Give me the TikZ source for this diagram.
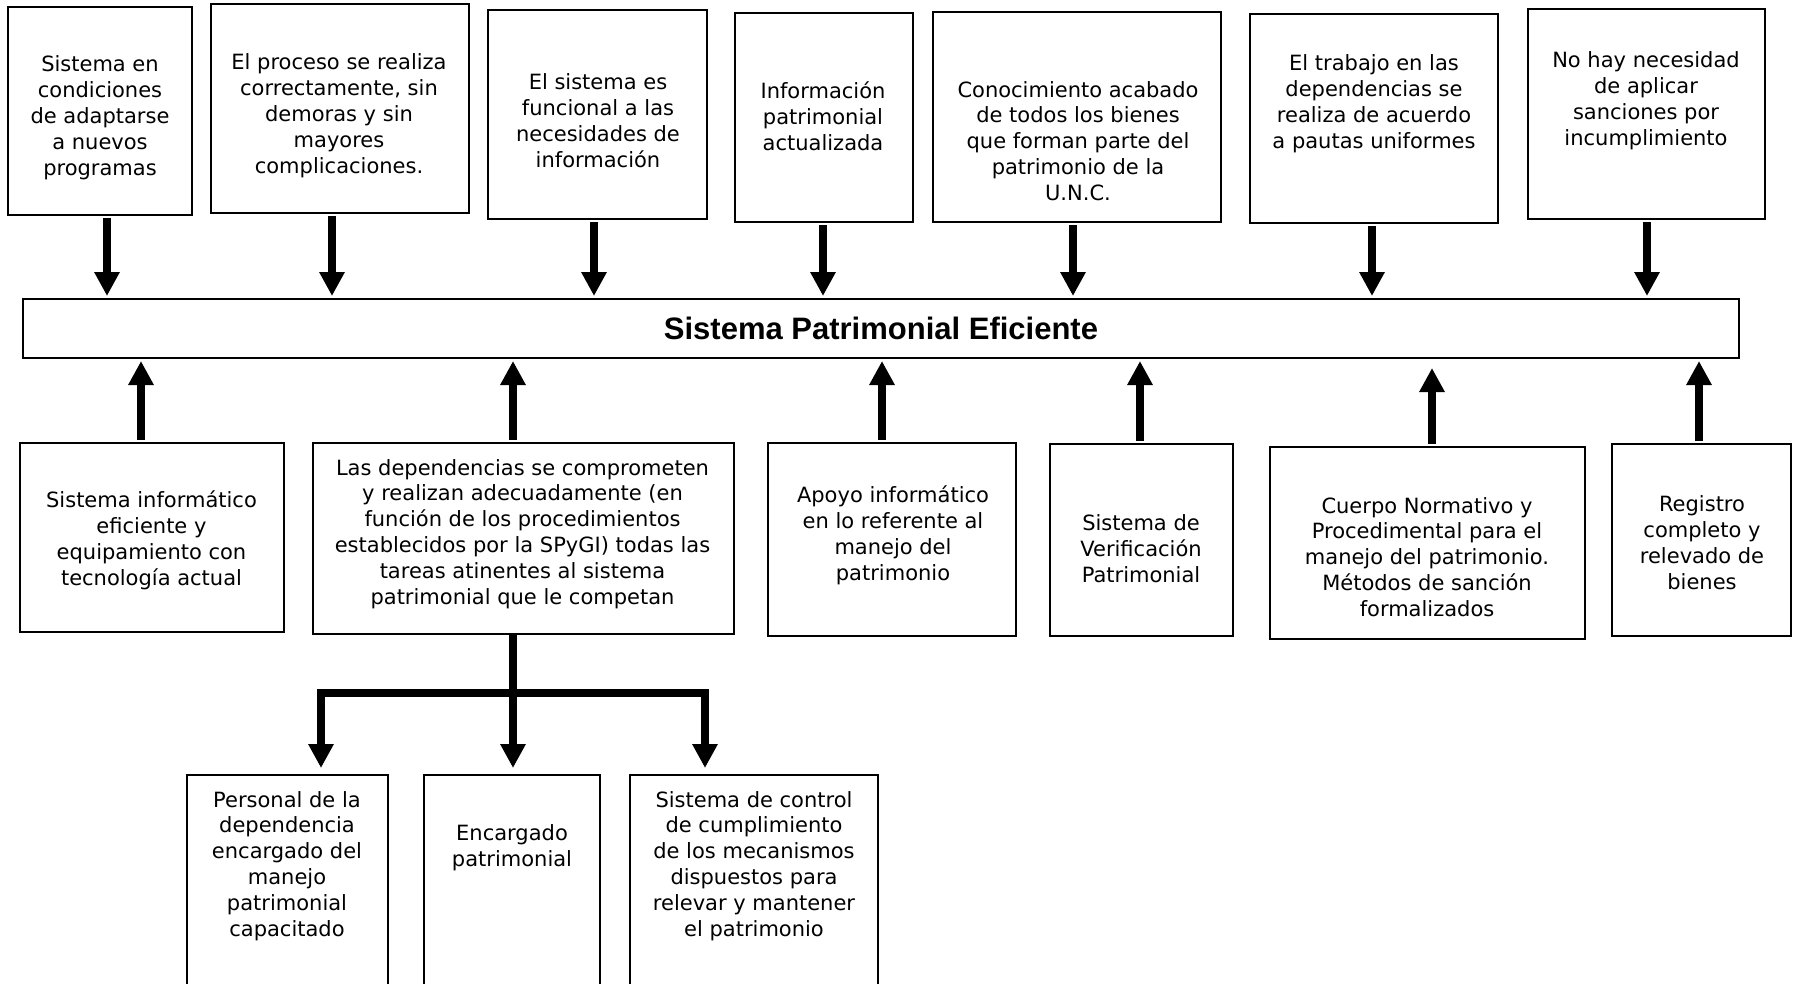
\documentclass[tikz,border=0pt]{standalone}
\usepackage{fontspec}
\setmainfont{DejaVu Sans}
\newfontfamily\titlefont{Liberation Sans}
\usetikzlibrary{arrows.meta, positioning}

\tikzset{
  box/.style={draw, line width=2pt, inner sep=0pt},
  txt/.style={align=center, inner sep=0pt, font=\fontsize{21}{25.9}\selectfont},
  conn/.style={line width=8pt, -{Triangle[width=24pt,length=24pt]}, shorten <=2pt, shorten >=2pt},
  stem/.style={line width=8pt}
}

\begin{document}
\begin{tikzpicture}[x=1pt, y=-1pt]
\useasboundingbox (0,0) rectangle (1797,983);
\clip (0,0) rectangle (1797,983);

% Top row
\node[box, minimum width=184pt, minimum height=208pt] (t1) at (100,111) {};
\node[txt] (t1l) at (100,117.5) {Sistema en\\condiciones\\de adaptarse\\a nuevos\\programas};
\node[box, minimum width=258pt, minimum height=209pt] (t2) at (340,108.5) {};
\node[txt] (t2l) at (339,116) {El proceso se realiza\\correctamente, sin\\demoras y sin\\mayores\\complicaciones.};
\node[box, minimum width=219pt, minimum height=209pt] (t3) at (597.5,114.5) {};
\node[txt] (t3l) at (598,121) {El sistema es\\funcional a las\\necesidades de\\información};
\node[box, minimum width=178pt, minimum height=209pt] (t4) at (824,117.5) {};
\node[txt] (t4l) at (823,116) {Información\\patrimonial\\actualizada};
\node[box, minimum width=288pt, minimum height=210pt] (t5) at (1077,117) {};
\node[txt] (t5l) at (1078,141) {Conocimiento acabado\\de todos los bienes\\que forman parte del\\patrimonio de la\\U.N.C.};
\node[box, minimum width=248pt, minimum height=209pt] (t6) at (1374,118.5) {};
\node[txt] (t6l) at (1374,104) {El trabajo en las\\dependencias se\\realiza de acuerdo\\a pautas uniformes};
\node[box, minimum width=237pt, minimum height=210pt] (t7) at (1646.5,114) {};
\node[txt] (t7l) at (1646,101) {No hay necesidad\\de aplicar\\sanciones por\\incumplimiento};

% Central box
\node[box, minimum width=1716pt, minimum height=59pt,
  font=\titlefont\bfseries\fontsize{31}{37}\selectfont] (main) at (881,328.5) {Sistema Patrimonial Eficiente};

% Bottom row
\node[box, minimum width=264pt, minimum height=189pt] (b1) at (152,537.5) {};
\node[txt] (b1l) at (151.5,540) {Sistema informático\\eficiente y\\equipamiento con\\tecnología actual};
\node[box, minimum width=421pt, minimum height=191pt] (b2) at (523.5,538.5) {};
\node[txt] (b2l) at (522.5,534) {Las dependencias se comprometen\\y realizan adecuadamente (en\\función de los procedimientos\\establecidos por la SPyGI) todas las\\tareas atinentes al sistema\\patrimonial que le competan};
\node[box, minimum width=248pt, minimum height=193pt] (b3) at (892,539.5) {};
\node[txt] (b3l) at (893,535) {Apoyo informático\\en lo referente al\\manejo del\\patrimonio};
\node[box, minimum width=183pt, minimum height=192pt] (b4) at (1141.5,540) {};
\node[txt] (b4l) at (1141,549) {Sistema de\\Verificación\\Patrimonial};
\node[box, minimum width=315pt, minimum height=192pt] (b5) at (1427.5,543) {};
\node[txt] (b5l) at (1427,557) {Cuerpo Normativo y\\Procedimental para el\\manejo del patrimonio.\\Métodos de sanción\\formalizados};
\node[box, minimum width=179pt, minimum height=192pt] (b6) at (1701.5,540) {};
\node[txt] (b6l) at (1702,542.5) {Registro\\completo y\\relevado de\\bienes};

% Lower row
\node[box, minimum width=201pt, minimum height=225pt] (c1) at (287.5,887.5) {};
\node[txt] (c1l) at (287,866) {Personal de la\\dependencia\\encargado del\\manejo\\patrimonial\\capacitado};
\node[box, minimum width=176pt, minimum height=225pt] (c2) at (512,887.5) {};
\node[txt] (c2l) at (512,847.5) {Encargado\\patrimonial};
\node[box, minimum width=248pt, minimum height=225pt] (c3) at (754,887.5) {};
\node[txt] (c3l) at (754,866) {Sistema de control\\de cumplimiento\\de los mecanismos\\dispuestos para\\relevar y mantener\\el patrimonio};

% Arrows
\foreach \n/\d in {t1/7,t2/-8,t3/-3.5,t4/-1,t5/-4,t6/-2,t7/0.5}
  \draw[conn] ([xshift=\d pt]\n.south) -- ([xshift=\d pt]\n.south |- main.north);
\foreach \n/\d/\s in {b1/-11/2,b2/-10.5/2,b3/-10/2,b4/-1.5/2,b5/4.5/9,b6/-2.5/2}
  \draw[conn, shorten >=\s pt] ([xshift=\d pt]\n.north) -- ([xshift=\d pt]\n.north |- main.south);

\coordinate (jn) at (513,693);
\draw[stem] ([xshift=-10.5pt]b2.south) ++(0,-2) -- (jn);
\draw[conn, shorten <=0pt, shorten >=6pt] (jn) -| ([xshift=33.5pt]c1.north);
\draw[conn, shorten <=0pt, shorten >=6pt] (jn) -- ([xshift=1pt]c2.north);
\draw[conn, shorten <=0pt, shorten >=6pt] (jn) -| ([xshift=-49pt]c3.north);
\end{tikzpicture}
\end{document}
